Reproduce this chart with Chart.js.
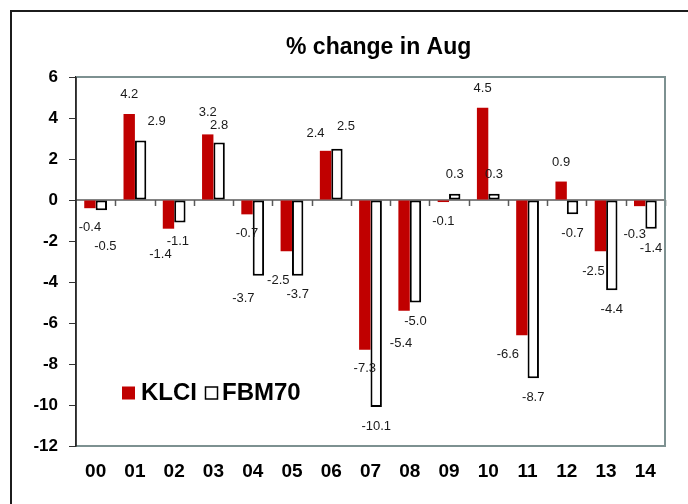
<!DOCTYPE html>
<html>
<head>
<meta charset="utf-8">
<script src="https://cdn.jsdelivr.net/npm/chart.js@4/dist/chart.umd.min.js"></script>
<style>
  html, body { margin: 0; padding: 0; background: #fff; }
  #wrap { position: relative; width: 688px; height: 504px; }
  canvas { display: block; }
</style>
</head>
<body>
<div id="wrap"><canvas id="c" width="688" height="504"></canvas></div>
<script>
// August returns by year, in percent
const years = ['00','01','02','03','04','05','06','07','08','09','10','11','12','13','14'];
const klci  = [-0.4, 4.2, -1.4, 3.2, -0.7, -2.5, 2.4, -7.3, -5.4, -0.1, 4.5, -6.6, 0.9, -2.5, -0.3];
const fbm70 = [-0.5, 2.9, -1.1, 2.8, -3.7, -3.7, 2.5, -10.1, -5.0, 0.3, 0.3, -8.7, -0.7, -4.4, -1.4];
const yTickValues = [-12, -10, -8, -6, -4, -2, 0, 2, 4, 6];
const titleText = '% change in Aug';
const seriesNames = ['KLCI', 'FBM70'];

// hand placement tweaks for the value labels [dx, dy], per series
const labelNudge = [
  [[0,0],[0,0],[-8,7],[0,-3],[0,0],[-8,10],[-10,1.5],[0,0],[-3,14],[0,0],[0,0],[-14,0],[0,0],[-7,1],[-5,9]],
  [[4,17],[16,0],[-2,0],[0,1.5],[-15,3.5],[0,0],[9,-3],[0,0],[0,0],[0,0],[0,0],[0,0],[0,0],[0,0],[0,1]]
];

const FONT = '"Liberation Sans", Arial, sans-serif';
const FRAME = '#7d9191';

const decor = {
  id: 'decor',
  beforeDraw(chart) {
    const ctx = chart.ctx;
    ctx.save();
    ctx.fillStyle = '#fff';
    ctx.fillRect(0, 0, chart.width, chart.height);
    ctx.restore();
  },
  beforeDatasetsDraw(chart) {
    const ctx = chart.ctx, y = chart.scales.y;
    const area = chart.chartArea;
    const y0 = Math.round(y.getPixelForValue(0));
    const step = (area.right - area.left) / years.length;
    ctx.save();
    ctx.strokeStyle = '#5a5a5a';
    ctx.lineWidth = 1.5;
    ctx.beginPath();
    ctx.moveTo(area.left, y0);
    ctx.lineTo(area.right, y0);
    for (let i = 1; i <= years.length; i++) {
      const px = Math.round(area.left + i * step) + 0.5;
      ctx.moveTo(px, y0);
      ctx.lineTo(px, y0 + 6);
    }
    ctx.stroke();
    ctx.restore();
  },
  afterDatasetsDraw(chart) {
    const ctx = chart.ctx;
    ctx.save();
    ctx.font = '13px ' + FONT;
    ctx.fillStyle = '#1a1a1a';
    ctx.textAlign = 'center';
    ctx.textBaseline = 'middle';
    chart.data.datasets.forEach((ds, di) => {
      const meta = chart.getDatasetMeta(di);
      meta.data.forEach((bar, i) => {
        const v = ds.data[i];
        const n = labelNudge[di][i];
        const ty = v >= 0 ? bar.y - 19 : bar.y + 19;
        ctx.fillText(v.toFixed(1), bar.x + n[0], ty + n[1]);
      });
    });
    ctx.restore();
  },
  afterDraw(chart) {
    const ctx = chart.ctx, area = chart.chartArea;
    ctx.save();
    // plot frame, top and right
    ctx.strokeStyle = FRAME;
    ctx.lineWidth = 2;
    ctx.beginPath();
    ctx.moveTo(area.left, area.top);
    ctx.lineTo(area.right, area.top);
    ctx.lineTo(area.right, area.bottom);
    ctx.stroke();

    // value axis line on top of the frame
    ctx.strokeStyle = '#2a2a2a';
    ctx.lineWidth = 1.5;
    ctx.beginPath();
    ctx.moveTo(area.left, area.top);
    ctx.lineTo(area.left, area.bottom);
    ctx.stroke();

    // outer frame
    ctx.fillStyle = '#1c1c1c';
    ctx.fillRect(10, 10, chart.width - 10, 2);
    ctx.fillRect(10, 10, 2, chart.height - 10);

    // title
    ctx.fillStyle = '#000';
    ctx.font = 'bold 23px ' + FONT;
    ctx.textAlign = 'left';
    ctx.textBaseline = 'middle';
    ctx.fillText(titleText, 286, 48);

    // legend
    const ly = 393;
    ctx.font = 'bold 24px ' + FONT;
    ctx.fillStyle = chart.data.datasets[0].backgroundColor;
    ctx.fillRect(122, ly - 6.5, 13, 13);
    ctx.fillStyle = '#000';
    ctx.fillText(seriesNames[0], 141, ly);
    ctx.fillStyle = '#fff';
    ctx.fillRect(205, ly - 6.5, 13, 13);
    ctx.strokeStyle = '#000';
    ctx.lineWidth = 1.5;
    ctx.strokeRect(205.5, ly - 6, 12, 12);
    ctx.fillStyle = '#000';
    ctx.fillText(seriesNames[1], 222, ly);
    ctx.restore();
  }
};

new Chart(document.getElementById('c'), {
  type: 'bar',
  data: {
    labels: years,
    datasets: [
      { label: seriesNames[0], data: klci, backgroundColor: '#C00000', borderWidth: 0 },
      { label: seriesNames[1], data: fbm70, backgroundColor: '#ffffff', borderColor: '#000000', borderWidth: 2, borderSkipped: false }
    ]
  },
  options: {
    responsive: false,
    animation: false,
    devicePixelRatio: 1,
    layout: { padding: { left: 0, top: 77, right: 23, bottom: 0 } },
    datasets: { bar: { barPercentage: 1, categoryPercentage: 0.58 } },
    plugins: { legend: { display: false }, title: { display: false }, tooltip: { enabled: false } },
    scales: {
      x: {
        grid: { display: false, drawTicks: false },
        border: { display: true, color: FRAME, width: 2 },
        ticks: { color: '#000', font: { family: FONT, size: 19, weight: 'bold' }, padding: 14, maxRotation: 0 },
        afterFit(s) { s.height = 58; }
      },
      y: {
        min: -12, max: 6,
        afterBuildTicks(s) { s.ticks = yTickValues.map(v => ({ value: v })); },
        grid: { drawOnChartArea: false, drawTicks: true, tickLength: 7, color: '#333', lineWidth: 1 },
        border: { display: true, color: '#2a2a2a', width: 1.5 },
        ticks: { color: '#000', font: { family: FONT, size: 17, weight: 'bold' }, padding: 11 },
        afterFit(s) { s.width = 76; }
      }
    }
  },
  plugins: [decor]
});
</script>
</body>
</html>
